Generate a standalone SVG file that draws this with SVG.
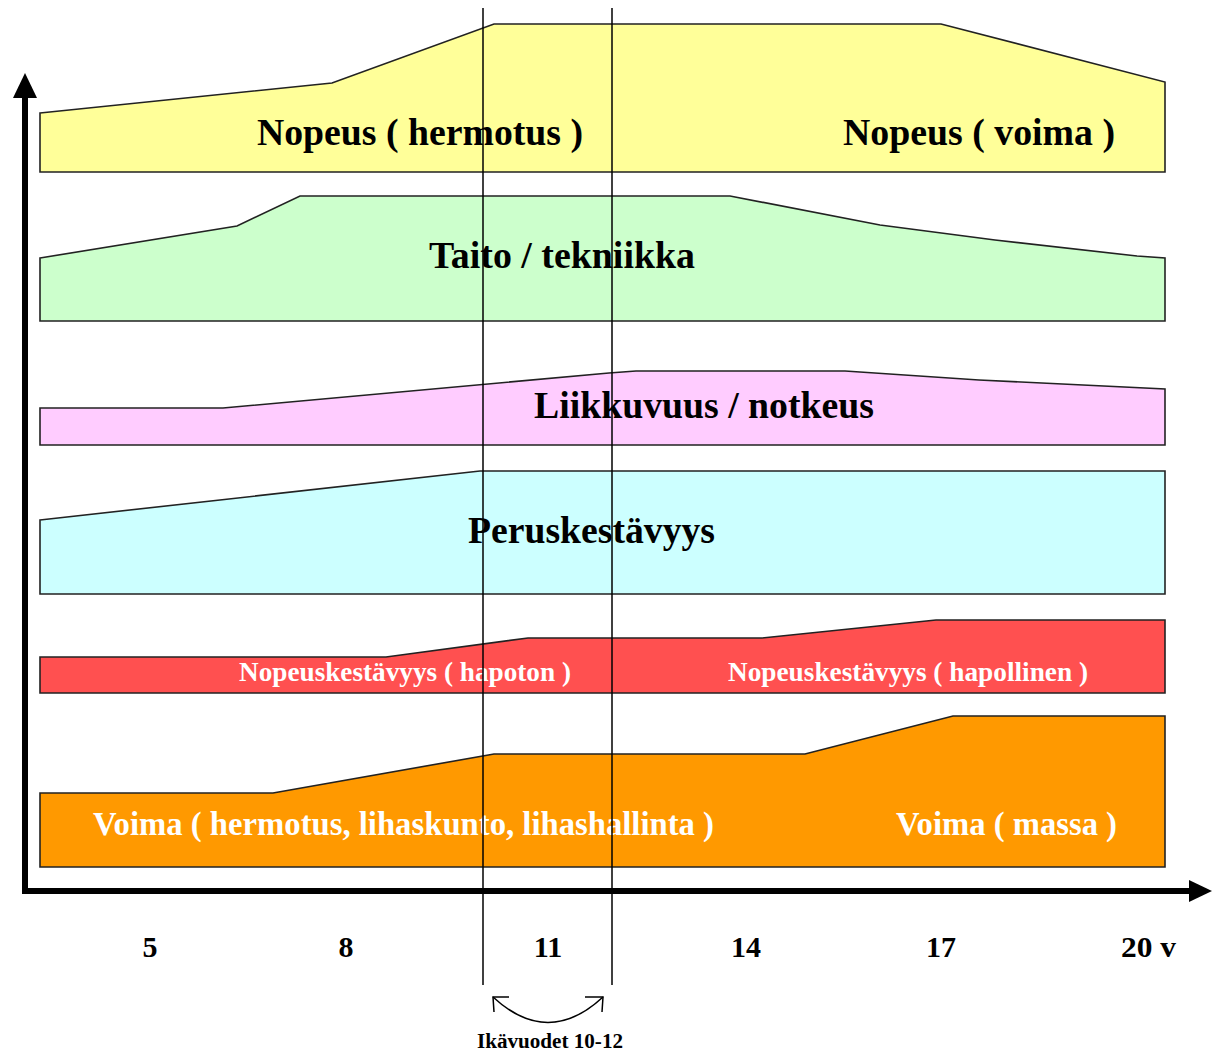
<svg xmlns="http://www.w3.org/2000/svg" width="1219" height="1052" viewBox="0 0 1219 1052">
<style>
.band{stroke:#222;stroke-width:1.6;stroke-linejoin:miter}
.lbl{font-family:"Liberation Serif","Times New Roman",serif;font-weight:bold;fill:#000}
.big{font-size:37px}
.mid{font-size:27px;fill:#fff}
.vo{font-size:33px;fill:#fff}
.num{font-size:30px;text-anchor:middle}
.axis{stroke:#000;stroke-width:6;fill:none}
.thin{stroke:#000;stroke-width:1.5;fill:none}
</style>
<rect width="1219" height="1052" fill="#fff"/>
<g id="nopeus">
<path class="band" fill="#FFFF99" d="M40,113 L332,83 L494,24 L941,24 L1165,82 L1165,172 L40,172 Z"/>
<text class="lbl big" x="257" y="145" textLength="326" lengthAdjust="spacingAndGlyphs">Nopeus ( hermotus )</text>
<text class="lbl big" x="843" y="145" textLength="272" lengthAdjust="spacingAndGlyphs">Nopeus ( voima )</text>
</g>
<g id="taito">
<path class="band" fill="#CCFFCC" d="M40,258 L237,226 L300,196 L730,196 L880,225 L995,240 L1137,256 L1165,258 L1165,321 L40,321 Z"/>
<text class="lbl big" x="429" y="268" textLength="266" lengthAdjust="spacingAndGlyphs">Taito / tekniikka</text>
</g>
<g id="liikkuvuus">
<path class="band" fill="#FFCCFF" d="M40,408 L223,408 L609,373 L636,371 L845,371 L979,380 L1165,389 L1165,445 L40,445 Z"/>
<text class="lbl big" x="534" y="418" textLength="340" lengthAdjust="spacingAndGlyphs">Liikkuvuus / notkeus</text>
</g>
<g id="peruskestavyys">
<path class="band" fill="#CCFFFF" d="M40,520 L480,471 L1165,471 L1165,594 L40,594 Z"/>
<text class="lbl big" x="468" y="543" textLength="247" lengthAdjust="spacingAndGlyphs">Peruskestävyys</text>
</g>
<g id="nopeuskestavyys">
<path class="band" fill="#FF5050" d="M40,657 L386,657 L528,638 L762,638 L936,620 L1165,620 L1165,693 L40,693 Z"/>
<text class="lbl mid" x="239" y="681" textLength="332" lengthAdjust="spacingAndGlyphs">Nopeuskestävyys ( hapoton )</text>
<text class="lbl mid" x="728" y="681" textLength="360" lengthAdjust="spacingAndGlyphs">Nopeuskestävyys ( hapollinen )</text>
</g>
<g id="voima">
<path class="band" fill="#FF9900" d="M40,793 L273,793 L494,754 L805,754 L953,716 L1165,716 L1165,867 L40,867 Z"/>
<text class="lbl vo" x="93" y="835" textLength="621" lengthAdjust="spacingAndGlyphs">Voima ( hermotus, lihaskunto, lihashallinta )</text>
<text class="lbl vo" x="896" y="835" textLength="221" lengthAdjust="spacingAndGlyphs">Voima ( massa )</text>
</g>
<g id="ages">
<text class="lbl num" x="150" y="957">5</text>
<text class="lbl num" x="346" y="957">8</text>
<text class="lbl num" x="548" y="957">11</text>
<text class="lbl num" x="746" y="957">14</text>
<text class="lbl num" x="941" y="957">17</text>
<text class="lbl" style="font-size:30px" x="1121" y="957" textLength="55" lengthAdjust="spacingAndGlyphs">20 v</text>
<text class="lbl" style="font-size:20px" x="477" y="1048" textLength="146" lengthAdjust="spacingAndGlyphs">Ikävuodet 10-12</text>
</g>
<g id="connectors">
<path class="axis" d="M25,96 L25,891 L1192,891"/>
<polygon points="25,73 37,98 13,98" fill="#000"/>
<polygon points="1212,891 1189,880 1189,902" fill="#000"/>
<line class="thin" x1="483" y1="8" x2="483" y2="985"/>
<line class="thin" x1="612" y1="8" x2="612" y2="985"/>
<path class="thin" d="M493,997 Q548,1048 603,997"/>
<path class="thin" d="M509,997 L493,997 L494,1012"/>
<path class="thin" d="M585,997 L603,997 L602,1012"/>
</g>
</svg>
